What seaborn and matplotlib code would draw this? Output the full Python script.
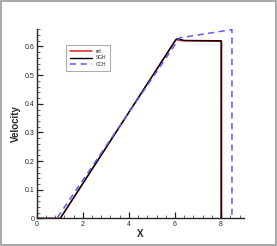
import numpy as np
import pandas as pd
import matplotlib
matplotlib.use("Agg")
import matplotlib.pyplot as plt
import seaborn as sns
from matplotlib.ticker import MultipleLocator
from matplotlib.patches import Rectangle

# data
x_ref = [0.0, 1.02, 6.04, 6.3, 8.02, 8.02]
v_ref = [0.0, 0.0, 0.624, 0.620, 0.618, 0.0]

x_sgh = [0.0, 1.02, 6.04, 6.12, 6.4, 8.0, 8.0]
v_sgh = [0.0, 0.0, 0.624, 0.627, 0.621, 0.620, 0.0]

x_cch = [0.0, 0.87, 6.2, 8.47, 8.47]
v_cch = [0.0, 0.0, 0.630, 0.659, 0.0]

x_ticks = [0, 2, 4, 6, 8]
y_ticks = [0, 0.1, 0.2, 0.3, 0.4, 0.5, 0.6]
y_tick_labels = ["0", "0.1", "0.2", "0.3", "0.4", "0.5", "0.6"]

sns.set_style("ticks")
plt.rcParams['font.family'] = ['Liberation Sans', 'DejaVu Sans']

fig = plt.figure(figsize=(2.77, 2.46), dpi=100)
ax = fig.add_axes([0.1325, 0.112, 0.749, 0.769])

sns.lineplot(x=x_ref, y=v_ref, sort=False, estimator=None, ax=ax,
             color="#e02020", lw=1.1, label="ref.")
sns.lineplot(x=x_sgh, y=v_sgh, sort=False, estimator=None, ax=ax,
             color="black", lw=1.0, label="SGH")
sns.lineplot(x=x_cch, y=v_cch, sort=False, estimator=None, ax=ax,
             color="#5a5aff", lw=1.1, label="CCH")
ax.lines[2].set_dashes([4, 3])

ax.set_xlim(0, 9)
ax.set_ylim(0, 0.66)
ax.set_xticks(x_ticks)
ax.set_xticklabels([str(t) for t in x_ticks])
ax.set_yticks(y_ticks)
ax.set_yticklabels(y_tick_labels)
ax.xaxis.set_minor_locator(MultipleLocator(0.4))
ax.yaxis.set_minor_locator(MultipleLocator(0.02))
ax.tick_params(which="both", direction="in", labelsize=5, pad=1.5)
ax.tick_params(which="major", length=4, width=0.9)
ax.tick_params(which="minor", length=2, width=0.5)
sns.despine(ax=ax)
for s in ["left", "bottom"]:
    ax.spines[s].set_linewidth(1.0)

ax.set_xlabel("X", fontsize=7, fontweight="bold", labelpad=1)
ax.set_ylabel("Velocity", fontsize=7, fontweight="bold", labelpad=3)

leg = ax.legend(loc="upper left", bbox_to_anchor=(0.13, 0.93), fontsize=3.5,
                frameon=True, fancybox=False, edgecolor="#999999",
                handlelength=4.5, borderpad=0.8, labelspacing=0.3)
leg.get_frame().set_linewidth(0.8)

fig.patches.append(Rectangle((0.003, 0.004), 0.992, 0.99, transform=fig.transFigure,
                             fill=False, edgecolor="#999999", lw=1.2))

fig.savefig("out.png", dpi=100)
